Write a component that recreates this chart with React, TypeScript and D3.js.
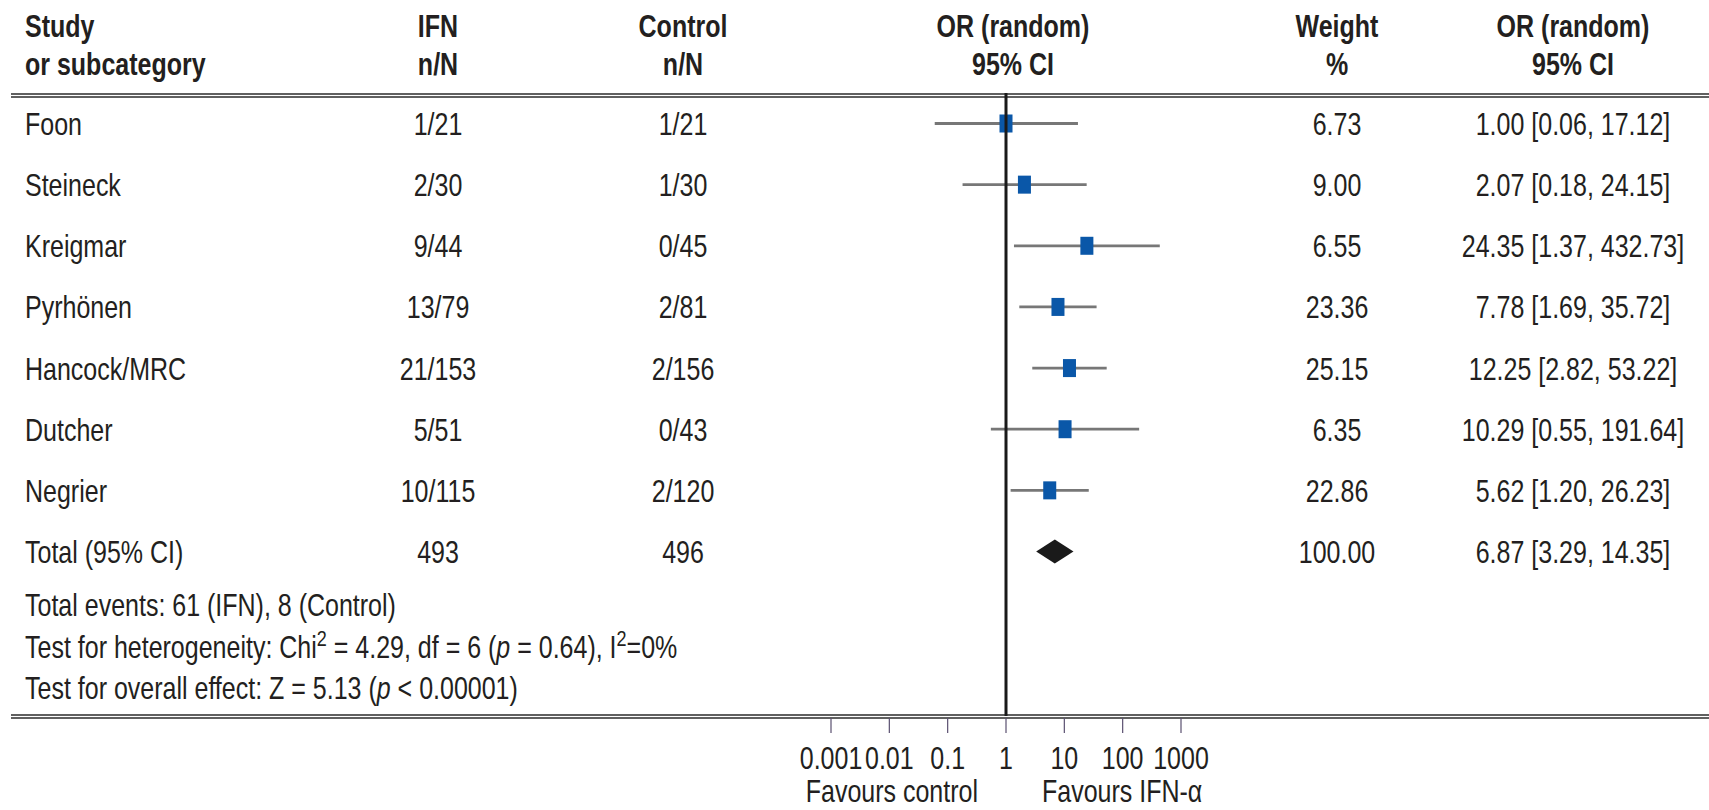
import * as d3 from 'd3';
import React from 'react';

// study rows
const studies = ['Foon', 'Steineck', 'Kreigmar', 'Pyrhönen', 'Hancock/MRC', 'Dutcher', 'Negrier'];
const ifnCounts = ['1/21', '2/30', '9/44', '13/79', '21/153', '5/51', '10/115'];
const controlCounts = ['1/21', '1/30', '0/45', '2/81', '2/156', '0/43', '2/120'];
const weights = [6.73, 9.0, 6.55, 23.36, 25.15, 6.35, 22.86];
const orEst = [1.0, 2.07, 24.35, 7.78, 12.25, 10.29, 5.62];
const orLow = [0.06, 0.18, 1.37, 1.69, 2.82, 0.55, 1.2];
const orHigh = [17.12, 24.15, 432.73, 35.72, 53.22, 191.64, 26.23];

// pooled
const totalN = [493, 496];
const totalWeight = 100;
const totalOR = [6.87, 3.29, 14.35];

const axisTicks = [0.001, 0.01, 0.1, 1, 10, 100, 1000];
const axisLabels = ['0.001', '0.01', '0.1', '1', '10', '100', '1000'];

const W = 1709;
const H = 810;
const INK = '#231f20';
const FONT = '"Liberation Sans", Arial, sans-serif';
const SX = 0.82; // narrow face

const col = { study: 25, ifn: 438, control: 683, or: 1013, weight: 1337, orText: 1573 };

type TProps = {
  x: number;
  y: number;
  anchor?: 'start' | 'middle' | 'end';
  bold?: boolean;
  children: React.ReactNode;
};

const T = ({ x, y, anchor = 'start', bold = false, children }: TProps) => (
  <text
    transform={`translate(${x},${y}) scale(${SX},1)`}
    textAnchor={anchor}
    fontFamily={FONT}
    fontSize={30.5}
    fontWeight={bold ? 700 : 400}
    fill={INK}
  >
    {children}
  </text>
);

const fmt = (v: number) => v.toFixed(2);

const DoubleRule = ({ y }: { y: number }) => (
  <g stroke="#2b2b2b" strokeWidth={1.4}>
    <line x1={11} x2={W} y1={y} y2={y} />
    <line x1={11} x2={W} y1={y + 3} y2={y + 3} />
  </g>
);

export default function App() {
  const x = d3.scaleLog().domain([0.001, 1000]).range([831, 1181]);
  const rows = [...studies, 'Total (95% CI)'];
  const y = d3.scalePoint<string>().domain(rows).range([123.5, 551.5]);
  const base = (name: string) => (y(name) ?? 0) + 11.5;

  const ruleTop = 94;
  const ruleBottom = 715;
  const sup = { baselineShift: 'super', fontSize: 22 } as const;

  return (
    <svg
      width={W}
      height={H}
      viewBox={`0 0 ${W} ${H}`}
      style={{ position: 'absolute', left: 0, top: 0, background: '#fff' }}
    >
      {/* header */}
      <T x={col.study} y={37} bold>Study</T>
      <T x={col.study} y={75} bold>or subcategory</T>
      <T x={col.ifn} y={37} anchor="middle" bold>IFN</T>
      <T x={col.ifn} y={75} anchor="middle" bold>n/N</T>
      <T x={col.control} y={37} anchor="middle" bold>Control</T>
      <T x={col.control} y={75} anchor="middle" bold>n/N</T>
      <T x={col.or} y={37} anchor="middle" bold>OR (random)</T>
      <T x={col.or} y={75} anchor="middle" bold>95% CI</T>
      <T x={col.weight} y={37} anchor="middle" bold>Weight</T>
      <T x={col.weight} y={75} anchor="middle" bold>%</T>
      <T x={col.orText} y={37} anchor="middle" bold>OR (random)</T>
      <T x={col.orText} y={75} anchor="middle" bold>95% CI</T>

      <DoubleRule y={ruleTop} />
      <DoubleRule y={ruleBottom} />

      {/* study rows */}
      {studies.map((s, i) => (
        <g key={s}>
          <T x={col.study} y={base(s)}>{s}</T>
          <T x={col.ifn} y={base(s)} anchor="middle">{ifnCounts[i]}</T>
          <T x={col.control} y={base(s)} anchor="middle">{controlCounts[i]}</T>
          <T x={col.weight} y={base(s)} anchor="middle">{fmt(weights[i])}</T>
          <T x={col.orText} y={base(s)} anchor="middle">
            {`${fmt(orEst[i])} [${fmt(orLow[i])}, ${fmt(orHigh[i])}]`}
          </T>
          <line
            x1={x(orLow[i])}
            x2={x(orHigh[i])}
            y1={y(s)}
            y2={y(s)}
            stroke="#777"
            strokeWidth={2.8}
          />
          <rect
            x={x(orEst[i]) - 6.5}
            y={(y(s) ?? 0) - 9}
            width={13}
            height={18}
            fill="#0a57a8"
          />
        </g>
      ))}

      {/* total row */}
      <T x={col.study} y={base('Total (95% CI)')}>Total (95% CI)</T>
      <T x={col.ifn} y={base('Total (95% CI)')} anchor="middle">{totalN[0]}</T>
      <T x={col.control} y={base('Total (95% CI)')} anchor="middle">{totalN[1]}</T>
      <T x={col.weight} y={base('Total (95% CI)')} anchor="middle">{fmt(totalWeight)}</T>
      <T x={col.orText} y={base('Total (95% CI)')} anchor="middle">
        {`${fmt(totalOR[0])} [${fmt(totalOR[1])}, ${fmt(totalOR[2])}]`}
      </T>
      {(() => {
        const cy = y('Total (95% CI)') ?? 0;
        const pts = [
          [x(totalOR[1]), cy],
          [x(totalOR[0]), cy - 12],
          [x(totalOR[2]), cy],
          [x(totalOR[0]), cy + 12],
        ];
        return <polygon points={pts.map((p) => p.join(',')).join(' ')} fill="#1a1a1a" />;
      })()}

      {/* footnotes */}
      <T x={col.study} y={616}>Total events: 61 (IFN), 8 (Control)</T>
      <T x={col.study} y={658}>
        Test for heterogeneity: Chi<tspan {...sup}>2</tspan>
        <tspan> = 4.29, df = 6 (</tspan>
        <tspan fontStyle="italic">p</tspan>
        <tspan> = 0.64), I</tspan>
        <tspan {...sup}>2</tspan>
        <tspan>=0%</tspan>
      </T>
      <T x={col.study} y={699}>
        Test for overall effect: Z = 5.13 (<tspan fontStyle="italic">p</tspan>
        <tspan> &lt; 0.00001)</tspan>
      </T>

      {/* null line */}
      <line x1={x(1)} x2={x(1)} y1={ruleTop - 1} y2={ruleBottom + 1} stroke="#1a1a1a" strokeWidth={3} />

      {/* axis */}
      {axisTicks.map((t, i) => (
        <g key={t}>
          <line x1={x(t)} x2={x(t)} y1={ruleBottom + 3} y2={733} stroke="#5a5070" strokeWidth={1.2} />
          <T x={x(t)} y={769} anchor="middle">{axisLabels[i]}</T>
        </g>
      ))}
      <T x={x(1) - 28} y={802} anchor="end">Favours control</T>
      <T x={x(1) + 36} y={802}>Favours IFN-α</T>
    </svg>
  );
}
